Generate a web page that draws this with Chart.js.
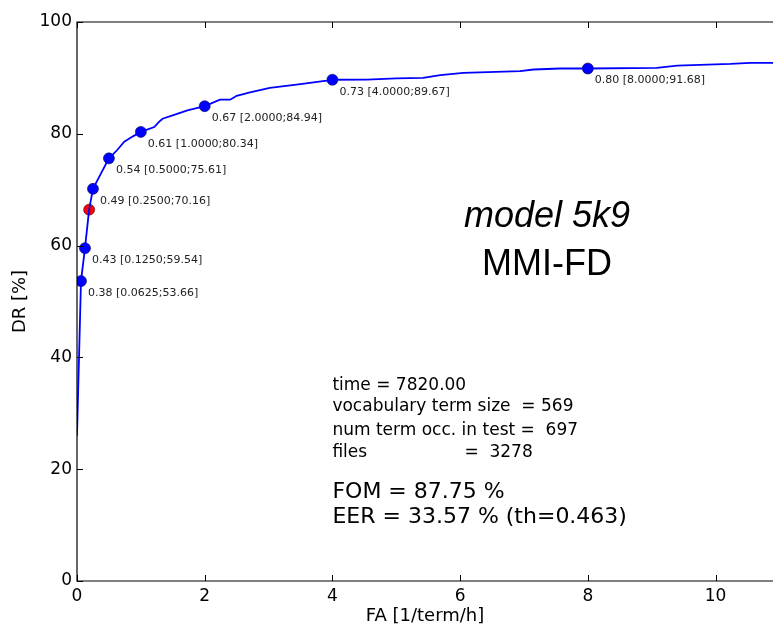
<!DOCTYPE html>
<html>
<head>
<meta charset="utf-8">
<script src="https://cdn.jsdelivr.net/npm/chart.js@4.4.1/dist/chart.umd.min.js"></script>
<style>
  html, body { margin: 0; padding: 0; background: #fff; }
  canvas { display: block; }
</style>
</head>
<body>
<canvas id="detChart" width="773" height="627"></canvas>
<script>
// DET curve, detection rate vs. false alarms per term per hour
const curveFA = [0, 0.0625, 0.125, 0.19, 0.25, 0.37, 0.5, 0.63, 0.74, 0.87, 1.0, 1.21, 1.28, 1.34, 1.52, 1.73, 2.0,
  2.24, 2.4, 2.5, 2.71, 3.02, 3.5, 3.91, 4.0, 4.54, 5.0, 5.42, 5.69, 6.05, 6.94, 7.15, 7.57, 8.0,
  9.08, 9.4, 10.23, 10.55, 10.9];
const curveDR = [26, 53.66, 59.54, 66.43, 70.16, 72.8, 75.61, 77.1, 78.6, 79.5, 80.34, 81.2, 82.1, 82.7, 83.4, 84.2, 84.94,
  86.1, 86.1, 86.8, 87.4, 88.2, 88.9, 89.5, 89.67, 89.7, 89.9, 90.0, 90.5, 90.9, 91.2, 91.5, 91.68, 91.68,
  91.8, 92.2, 92.5, 92.7, 92.7];

// operating points: threshold [FA;DR]
const markerFA = [0.0625, 0.125, 0.25, 0.5, 1.0, 2.0, 4.0, 8.0];
const markerDR = [53.66, 59.54, 70.16, 75.61, 80.34, 84.94, 89.67, 91.68];
const markerTh = [0.38, 0.43, 0.49, 0.54, 0.61, 0.67, 0.73, 0.80];

// equal error rate point
const eerFA = [0.19];
const eerDR = [66.43];

const xTicks = [0, 2, 4, 6, 8, 10];
const yTicks = [0, 20, 40, 60, 80, 100];

const titleLines = ['model 5k9', 'MMI-FD'];
const statLines = [
  'time = 7820.00',
  'vocabulary term size  = 569',
  'num term occ. in test =  697',
  'files                  =  3278'
];
const scoreLines = ['FOM = 87.75 %', 'EER = 33.57 % (th=0.463)'];

Chart.defaults.color = '#000';
Chart.defaults.font.family = '"DejaVu Sans", sans-serif';

const toPoints = (xs, ys) => xs.map((x, i) => ({ x: x, y: ys[i] }));

// spines, inward ticks and the text annotations
const decorations = {
  id: 'decorations',
  afterDraw(chart) {
    const { ctx, chartArea: a, scales } = chart;
    const xs = scales.x, ys = scales.y;
    ctx.save();

    ctx.strokeStyle = '#000';
    ctx.lineWidth = 1.2;
    ctx.beginPath();
    ctx.moveTo(chart.width, a.top); ctx.lineTo(a.left, a.top);
    ctx.lineTo(a.left, a.bottom); ctx.lineTo(chart.width, a.bottom);
    ctx.stroke();

    ctx.lineWidth = 1;
    ctx.beginPath();
    xTicks.forEach(v => {
      const px = Math.round(xs.getPixelForValue(v)) + 0.5;
      ctx.moveTo(px, a.bottom); ctx.lineTo(px, a.bottom - 6);
      ctx.moveTo(px, a.top); ctx.lineTo(px, a.top + 6);
    });
    yTicks.forEach(v => {
      const py = Math.round(ys.getPixelForValue(v)) + 0.5;
      ctx.moveTo(a.left, py); ctx.lineTo(a.left + 6, py);
    });
    ctx.stroke();

    // threshold labels next to the operating points
    const meta = chart.getDatasetMeta(1);
    ctx.fillStyle = '#222';
    ctx.font = '11px "DejaVu Sans"';
    ctx.textBaseline = 'middle';
    ctx.textAlign = 'left';
    meta.data.forEach((pt, i) => {
      const txt = markerTh[i].toFixed(2) + ' [' + markerFA[i].toFixed(4) + ';' + markerDR[i].toFixed(2) + ']';
      ctx.fillText(txt, pt.x + 7, pt.y + 12);
    });

    ctx.fillStyle = '#000';
    ctx.textBaseline = 'alphabetic';

    // model name
    ctx.textAlign = 'center';
    const tx = xs.getPixelForValue(7.36);
    ctx.font = 'italic 36px "Liberation Sans"';
    ctx.fillText(titleLines[0], tx, ys.getPixelForValue(63.4));
    ctx.font = '36px "Liberation Sans"';
    ctx.fillText(titleLines[1], tx, ys.getPixelForValue(54.8));

    // run statistics
    ctx.textAlign = 'left';
    const sx = xs.getPixelForValue(4.0);
    const statY = [34.2, 30.5, 26.1, 22.2];
    ctx.font = '17px "DejaVu Sans"';
    statLines.forEach((s, i) => ctx.fillText(s, sx, ys.getPixelForValue(statY[i])));
    const scoreY = [14.8, 10.3];
    ctx.font = '22px "DejaVu Sans"';
    scoreLines.forEach((s, i) => ctx.fillText(s, sx, ys.getPixelForValue(scoreY[i])));

    ctx.restore();
  }
};

new Chart(document.getElementById('detChart'), {
  type: 'scatter',
  data: {
    datasets: [
      {
        label: 'DET',
        data: toPoints(curveFA, curveDR),
        showLine: true,
        borderColor: '#0000ff',
        borderWidth: 1.8,
        pointRadius: 0,
        tension: 0
      },
      {
        label: 'thresholds',
        data: toPoints(markerFA, markerDR),
        pointRadius: 5.5,
        backgroundColor: '#0000ff',
        borderColor: '#000040',
        borderWidth: 0.6
      },
      {
        label: 'EER',
        data: toPoints(eerFA, eerDR),
        pointRadius: 5.5,
        backgroundColor: '#ff0000',
        borderColor: '#400000',
        borderWidth: 0.6
      }
    ]
  },
  options: {
    responsive: false,
    animation: false,
    layout: { autoPadding: false, padding: { top: 22, right: 0, left: 0, bottom: 0 } },
    plugins: {
      legend: { display: false },
      tooltip: { enabled: false }
    },
    scales: {
      x: {
        type: 'linear',
        min: 0,
        max: 10.9,
        afterFit: s => { s.height = 46; s.paddingLeft = 0; s.paddingRight = 0; },
        afterBuildTicks: s => { s.ticks = xTicks.map(v => ({ value: v })); },
        grid: { display: false, drawTicks: false },
        border: { display: false },
        ticks: { font: { size: 17 }, padding: 5, maxRotation: 0 },
        title: { display: true, text: 'FA [1/term/h]', font: { size: 18 }, padding: { top: 0, bottom: 0 } }
      },
      y: {
        type: 'linear',
        min: 0,
        max: 100,
        afterFit: s => { s.width = 77; s.paddingTop = 0; s.paddingBottom = 0; },
        afterBuildTicks: s => { s.ticks = yTicks.map(v => ({ value: v })); },
        grid: { display: false, drawTicks: false },
        border: { display: false },
        ticks: { font: { size: 17 }, padding: 5 },
        title: { display: true, text: 'DR [%]', font: { size: 18 }, padding: { top: 10, bottom: 0 } }
      }
    }
  },
  plugins: [decorations]
});
</script>
</body>
</html>
